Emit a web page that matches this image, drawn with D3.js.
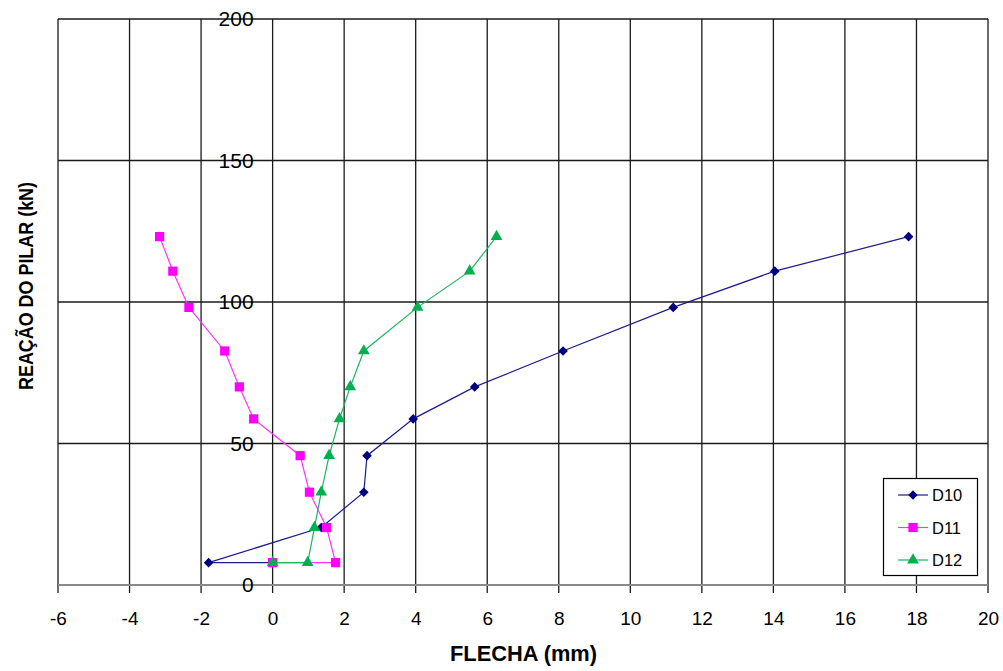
<!DOCTYPE html>
<html>
<head>
<meta charset="utf-8">
<script src="https://cdn.jsdelivr.net/npm/d3@7"></script>
<style>
  html, body { margin: 0; padding: 0; background: #fff; }
  svg { display: block; font-family: "Liberation Sans", Arial, sans-serif; }
</style>
</head>
<body>
<svg id="chart" width="1003" height="671"></svg>
<script>
// ---- data ----
const loads = [7.9, 7.9, 20.3, 32.8, 45.7, 58.7, 70.0, 82.7, 98.1, 110.9, 123.1];
const d10 = [0, -1.79, 1.36, 2.55, 2.64, 3.93, 5.65, 8.12, 11.20, 14.04, 17.78];
const d11 = [0, 1.76, 1.51, 1.03, 0.77, -0.53, -0.93, -1.34, -2.34, -2.79, -3.16];
const d12 = [0, 0.98, 1.17, 1.36, 1.58, 1.87, 2.17, 2.55, 4.05, 5.51, 6.26];
const seriesNames = ["D10", "D11", "D12"];
const xTicks = [-6, -4, -2, 0, 2, 4, 6, 8, 10, 12, 14, 16, 18, 20];
const yTicks = [0, 50, 100, 150, 200];
const xTitle = "FLECHA (mm)";
const yTitle = "REAÇÃO DO PILAR (kN)";

// ---- layout ----
const svg = d3.select("#chart");
const L = 58, R = 988, T = 19, B = 585;
const x = d3.scaleLinear().domain([-6, 20]).range([L, R]);
const y = d3.scaleLinear().domain([0, 200]).range([B, T]);

const styles = {
  D10: { color: "#000080", line: "#1c1c8a", symbol: d3.symbolSquare, size: 46, rot: 45 },
  D11: { color: "#FF00FF", line: "#FF33FF", symbol: d3.symbolSquare, size: 85, rot: 0 },
  D12: { color: "#00B050", line: "#1DB45F", symbol: d3.symbolTriangle, size: 60, rot: 0 }
};
const series = [
  { name: seriesNames[0], xs: d10 },
  { name: seriesNames[1], xs: d11 },
  { name: seriesNames[2], xs: d12 }
];

// grid
const grid = svg.append("g");
grid.selectAll("line.v").data(xTicks).join("line")
  .attr("x1", d => x(d)).attr("x2", d => x(d))
  .attr("y1", T).attr("y2", B + 8)
  .attr("stroke", "#1a1a1a").attr("stroke-width", 1.3);
grid.selectAll("line.h").data(yTicks.filter(d => d > 0)).join("line")
  .attr("x1", L).attr("x2", R)
  .attr("y1", d => y(d)).attr("y2", d => y(d))
  .attr("stroke", "#1a1a1a").attr("stroke-width", 1.3);

// x axis baseline
svg.append("line")
  .attr("x1", L).attr("x2", R).attr("y1", y(0)).attr("y2", y(0))
  .attr("stroke", "#8a8a8a").attr("stroke-width", 2);

// x axis labels
const xAxis = d3.axisBottom(x).tickValues(xTicks).tickSize(8).tickPadding(19)
  .tickFormat(d => d3.format("d")(d).replace("−", "-"));
const gx = svg.append("g").attr("transform", `translate(0,${B})`).call(xAxis);
gx.select(".domain").remove();
gx.selectAll(".tick line").remove();
gx.selectAll("text").attr("font-size", 19).attr("fill", "#000")
  .attr("font-family", "Liberation Sans, Arial, sans-serif");

// y axis labels at x = 0
const yAxis = d3.axisLeft(y).tickValues(yTicks).tickSize(0).tickPadding(19);
const gy = svg.append("g").attr("transform", `translate(${x(0)},0)`).call(yAxis);
gy.select(".domain").remove();
gy.selectAll("text").attr("font-size", 21).attr("fill", "#000")
  .attr("font-family", "Liberation Sans, Arial, sans-serif");

// series
const lineGen = d3.line().x(d => x(d[0])).y(d => y(d[1]));
series.forEach(s => {
  const st = styles[s.name];
  const pts = s.xs.map((v, i) => [v, loads[i]]);
  svg.append("path").datum(pts)
    .attr("d", lineGen).attr("fill", "none")
    .attr("stroke", st.line).attr("stroke-width", 1.2);
  svg.append("g").selectAll("path").data(pts).join("path")
    .attr("transform", d => `translate(${x(d[0])},${y(d[1])}) rotate(${st.rot})`)
    .attr("d", d3.symbol().type(st.symbol).size(st.size))
    .attr("fill", st.color);
});

// legend
const lg = svg.append("g");
lg.append("rect").attr("x", 883.5).attr("y", 478.5).attr("width", 94).attr("height", 97)
  .attr("fill", "#fff").attr("stroke", "#000").attr("stroke-width", 1.2);
series.forEach((s, i) => {
  const st = styles[s.name];
  const cy = 495 + i * 32.5;
  lg.append("line").attr("x1", 898).attr("x2", 928).attr("y1", cy).attr("y2", cy)
    .attr("stroke", st.line).attr("stroke-width", 1.2);
  lg.append("path").attr("transform", `translate(913,${cy}) rotate(${st.rot})`)
    .attr("d", d3.symbol().type(st.symbol).size(st.size)).attr("fill", st.color);
  lg.append("text").attr("x", 932).attr("y", cy + 6).attr("font-size", 16.5)
    .attr("fill", "#000").text(s.name);
});

// axis titles
svg.append("text").attr("x", 450).attr("y", 661)
  .attr("font-size", 22).attr("font-weight", "bold")
  .attr("textLength", 147).attr("lengthAdjust", "spacingAndGlyphs")
  .text(xTitle);
svg.append("text")
  .attr("transform", "translate(33,390) rotate(-90)")
  .attr("font-size", 21).attr("font-weight", "bold")
  .attr("textLength", 208).attr("lengthAdjust", "spacingAndGlyphs")
  .text(yTitle);
</script>
</body>
</html>
